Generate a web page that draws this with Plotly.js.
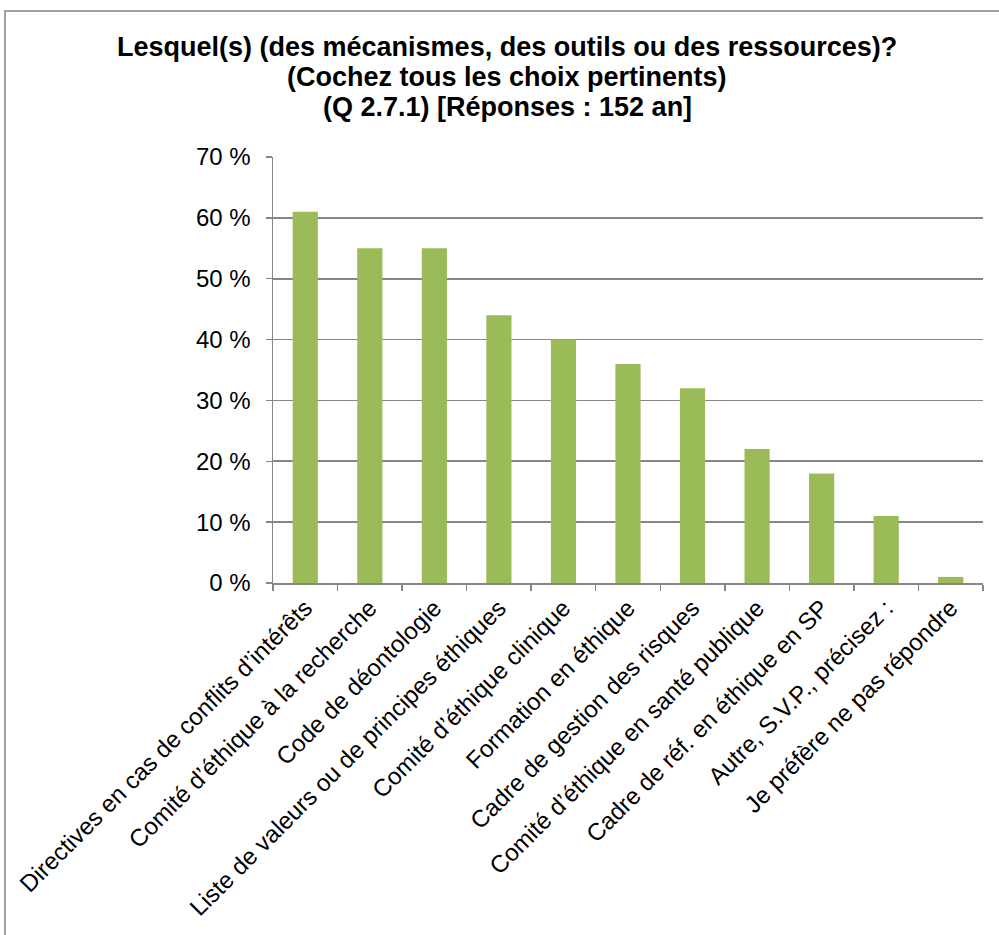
<!DOCTYPE html>
<html>
<head>
<meta charset="utf-8">
<script src="https://cdn.plot.ly/plotly-3.0.1.min.js"></script>
<style>
html,body{margin:0;padding:0;background:#fff;}
#chart{width:999px;height:935px;}
</style>
</head>
<body>
<div id="chart"></div>
<script>
const categories = [
  "Directives en cas de conflits d’intérêts",
  "Comité d’éthique à la recherche",
  "Code de déontologie",
  "Liste de valeurs ou de principes éthiques",
  "Comité d’éthique clinique",
  "Formation en éthique",
  "Cadre de gestion des risques",
  "Comité d’éthique en santé publique",
  "Cadre de réf. en éthique en SP",
  "Autre, S.V.P., précisez :",
  "Je préfère ne pas répondre"
];
const values = [61, 55, 55, 44, 40, 36, 32, 22, 18, 11, 1];
const titleLines = [
  "Lesquel(s) (des mécanismes, des outils ou des ressources)?",
  "(Cochez tous les choix pertinents)",
  "(Q 2.7.1) [Réponses : 152 an]"
];
const yTickValues = [0, 10, 20, 30, 40, 50, 60, 70];
const yTickLabels = ["0 %", "10 %", "20 %", "30 %", "40 %", "50 %", "60 %", "70 %"];

const font = "Liberation Sans, Arial, sans-serif";

// plot area in pixels: x 273..983, y 157..583
const L = 273, R = 983, T = 157, B = 583;
const px2x = p => (p - L) / (R - L);
const px2y = p => (B - p) / (B - T);

const trace = {
  type: "bar",
  x: categories,
  y: values,
  marker: {color: "#9BBB59", line: {width: 0}},
  hoverinfo: "x+y"
};

const titleCenters = [47, 77, 107];
const annotations = titleLines.map((t, i) => ({
  text: "<b>" + t + "</b>",
  xref: "paper", yref: "paper",
  x: px2x(507), y: px2y(titleCenters[i]),
  xanchor: "center", yanchor: "middle",
  showarrow: false,
  font: {family: font, size: 27, color: "#000000"}
}));

const layout = {
  width: 999,
  height: 935,
  paper_bgcolor: "#ffffff",
  plot_bgcolor: "#ffffff",
  margin: {l: L, r: 999 - R, t: T, b: 935 - B},
  bargap: 0.61,
  showlegend: false,
  font: {family: font, color: "#000000", size: 24},
  annotations: annotations,
  xaxis: {
    type: "category",
    tickangle: -45,
    tickson: "boundaries",
    ticks: "outside",
    ticklen: 6,
    tickcolor: "#868686",
    tickwidth: 1.5,
    showline: true,
    linecolor: "#868686",
    linewidth: 1.5,
    showgrid: false,
    tickfont: {family: font, size: 24, color: "#000000"},
    fixedrange: true
  },
  yaxis: {
    range: [0, 70],
    tickvals: yTickValues,
    ticktext: yTickLabels,
    ticks: "outside",
    ticklen: 6,
    tickcolor: "#868686",
    tickwidth: 1.5,
    ticklabelstandoff: 10,
    showline: true,
    linecolor: "#868686",
    linewidth: 1.5,
    showgrid: true,
    gridcolor: "#868686",
    gridwidth: 1.6,
    zeroline: false,
    tickfont: {family: font, size: 24, color: "#000000"},
    fixedrange: true
  },
  shapes: [{
    type: "rect",
    xref: "paper", yref: "paper",
    x0: px2x(5), x1: px2x(1010),
    y0: px2y(945), y1: px2y(11),
    line: {color: "#a0a0a0", width: 2},
    fillcolor: "rgba(0,0,0,0)",
    layer: "below"
  }]
};

Plotly.newPlot("chart", [trace], layout, {displayModeBar: false, staticPlot: true});
</script>
</body>
</html>
